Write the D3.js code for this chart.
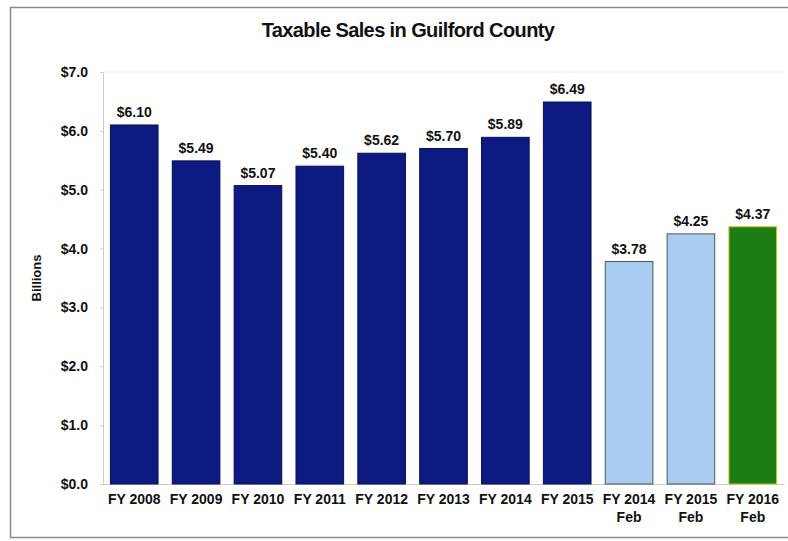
<!DOCTYPE html>
<html>
<head>
<meta charset="utf-8">
<script src="https://cdn.jsdelivr.net/npm/d3@7"></script>
<style>
  body { margin: 0; background: #fff; }
  text { font-family: "Liberation Sans", Arial, sans-serif; }
</style>
</head>
<body>
<div id="chart"></div>
<script>
const categories = ["FY 2008", "FY 2009", "FY 2010", "FY 2011", "FY 2012", "FY 2013", "FY 2014", "FY 2015", "FY 2014|Feb", "FY 2015|Feb", "FY 2016|Feb"];
const values = [6.10, 5.49, 5.07, 5.40, 5.62, 5.70, 5.89, 6.49, 3.78, 4.25, 4.37];
const barKinds = ["year", "year", "year", "year", "year", "year", "year", "year", "feb", "feb", "current"];
const yTicks = [0, 1, 2, 3, 4, 5, 6, 7];

const width = 788, height = 541;
const margin = { top: 72, right: 4, bottom: 57, left: 103 };

const fills = { year: "#0c1a82", feb: "#a9cdf0", current: "#1b7d12" };
const strokes = { year: "#0a1150", feb: "#4a5560", current: "#c9c21a" };

const svg = d3.select("#chart").append("svg")
  .attr("width", width)
  .attr("height", height);

// outer frame
svg.append("rect")
  .attr("x", 10.5).attr("y", 7.5)
  .attr("width", 790).attr("height", 530)
  .attr("fill", "none")
  .attr("stroke", "#8a8a8a")
  .attr("stroke-width", 1.5);

const x = d3.scaleBand()
  .domain(categories)
  .range([margin.left, width - margin.right])
  .paddingInner(0.23)
  .paddingOuter(0.12);

const y = d3.scaleLinear()
  .domain([0, 7])
  .range([height - margin.bottom, margin.top]);

// faint gridline at top
svg.append("line")
  .attr("x1", margin.left).attr("x2", width - margin.right)
  .attr("y1", y(7)).attr("y2", y(7))
  .attr("stroke", "#eeeeee");

// y axis
const yAxis = svg.append("g")
  .attr("transform", `translate(${margin.left},0)`)
  .call(d3.axisLeft(y).tickValues(yTicks).tickFormat(d => "$" + d3.format(".1f")(d)).tickSize(3).tickPadding(12));
yAxis.select(".domain").attr("stroke", "#cccccc");
yAxis.selectAll(".tick line").attr("stroke", "#cccccc");
yAxis.selectAll("text")
  .attr("font-size", 14).attr("font-weight", "bold").attr("fill", "#111");

// x axis
const xAxis = svg.append("g")
  .attr("transform", `translate(0,${y(0)})`)
  .call(d3.axisBottom(x).tickSize(0).tickFormat(""));
xAxis.select(".domain").attr("stroke", "#cccccc");
xAxis.selectAll(".tick").each(function(d) {
  const lines = d.split("|");
  const t = d3.select(this).append("text")
    .attr("text-anchor", "middle")
    .attr("font-size", 14).attr("font-weight", "bold").attr("fill", "#111");
  lines.forEach((l, i) => {
    t.append("tspan").attr("x", 0).attr("y", 20 + i * 18).text(l);
  });
});

// bars
svg.selectAll("rect.bar")
  .data(values)
  .enter().append("rect")
  .attr("class", "bar")
  .attr("x", (d, i) => x(categories[i]))
  .attr("y", d => y(d))
  .attr("width", x.bandwidth())
  .attr("height", d => y(0) - y(d))
  .attr("fill", (d, i) => fills[barKinds[i]])
  .attr("stroke", (d, i) => strokes[barKinds[i]])
  .attr("stroke-width", 1);

// value labels
svg.selectAll("text.val")
  .data(values)
  .enter().append("text")
  .attr("class", "val")
  .attr("x", (d, i) => x(categories[i]) + x.bandwidth() / 2)
  .attr("y", d => y(d) - 8)
  .attr("text-anchor", "middle")
  .attr("font-size", 14).attr("font-weight", "bold").attr("fill", "#111")
  .text(d => "$" + d3.format(".2f")(d));

// title
svg.append("text")
  .attr("x", 408).attr("y", 37)
  .attr("text-anchor", "middle")
  .attr("font-size", 20).attr("font-weight", "bold").attr("fill", "#111")
  .attr("letter-spacing", -0.6)
  .text("Taxable Sales in Guilford County");

// y label
svg.append("text")
  .attr("transform", `translate(41,${(y(0) + y(7)) / 2}) rotate(-90)`)
  .attr("text-anchor", "middle")
  .attr("font-size", 13).attr("font-weight", "bold").attr("fill", "#111")
  .text("Billions");
</script>
</body>
</html>
